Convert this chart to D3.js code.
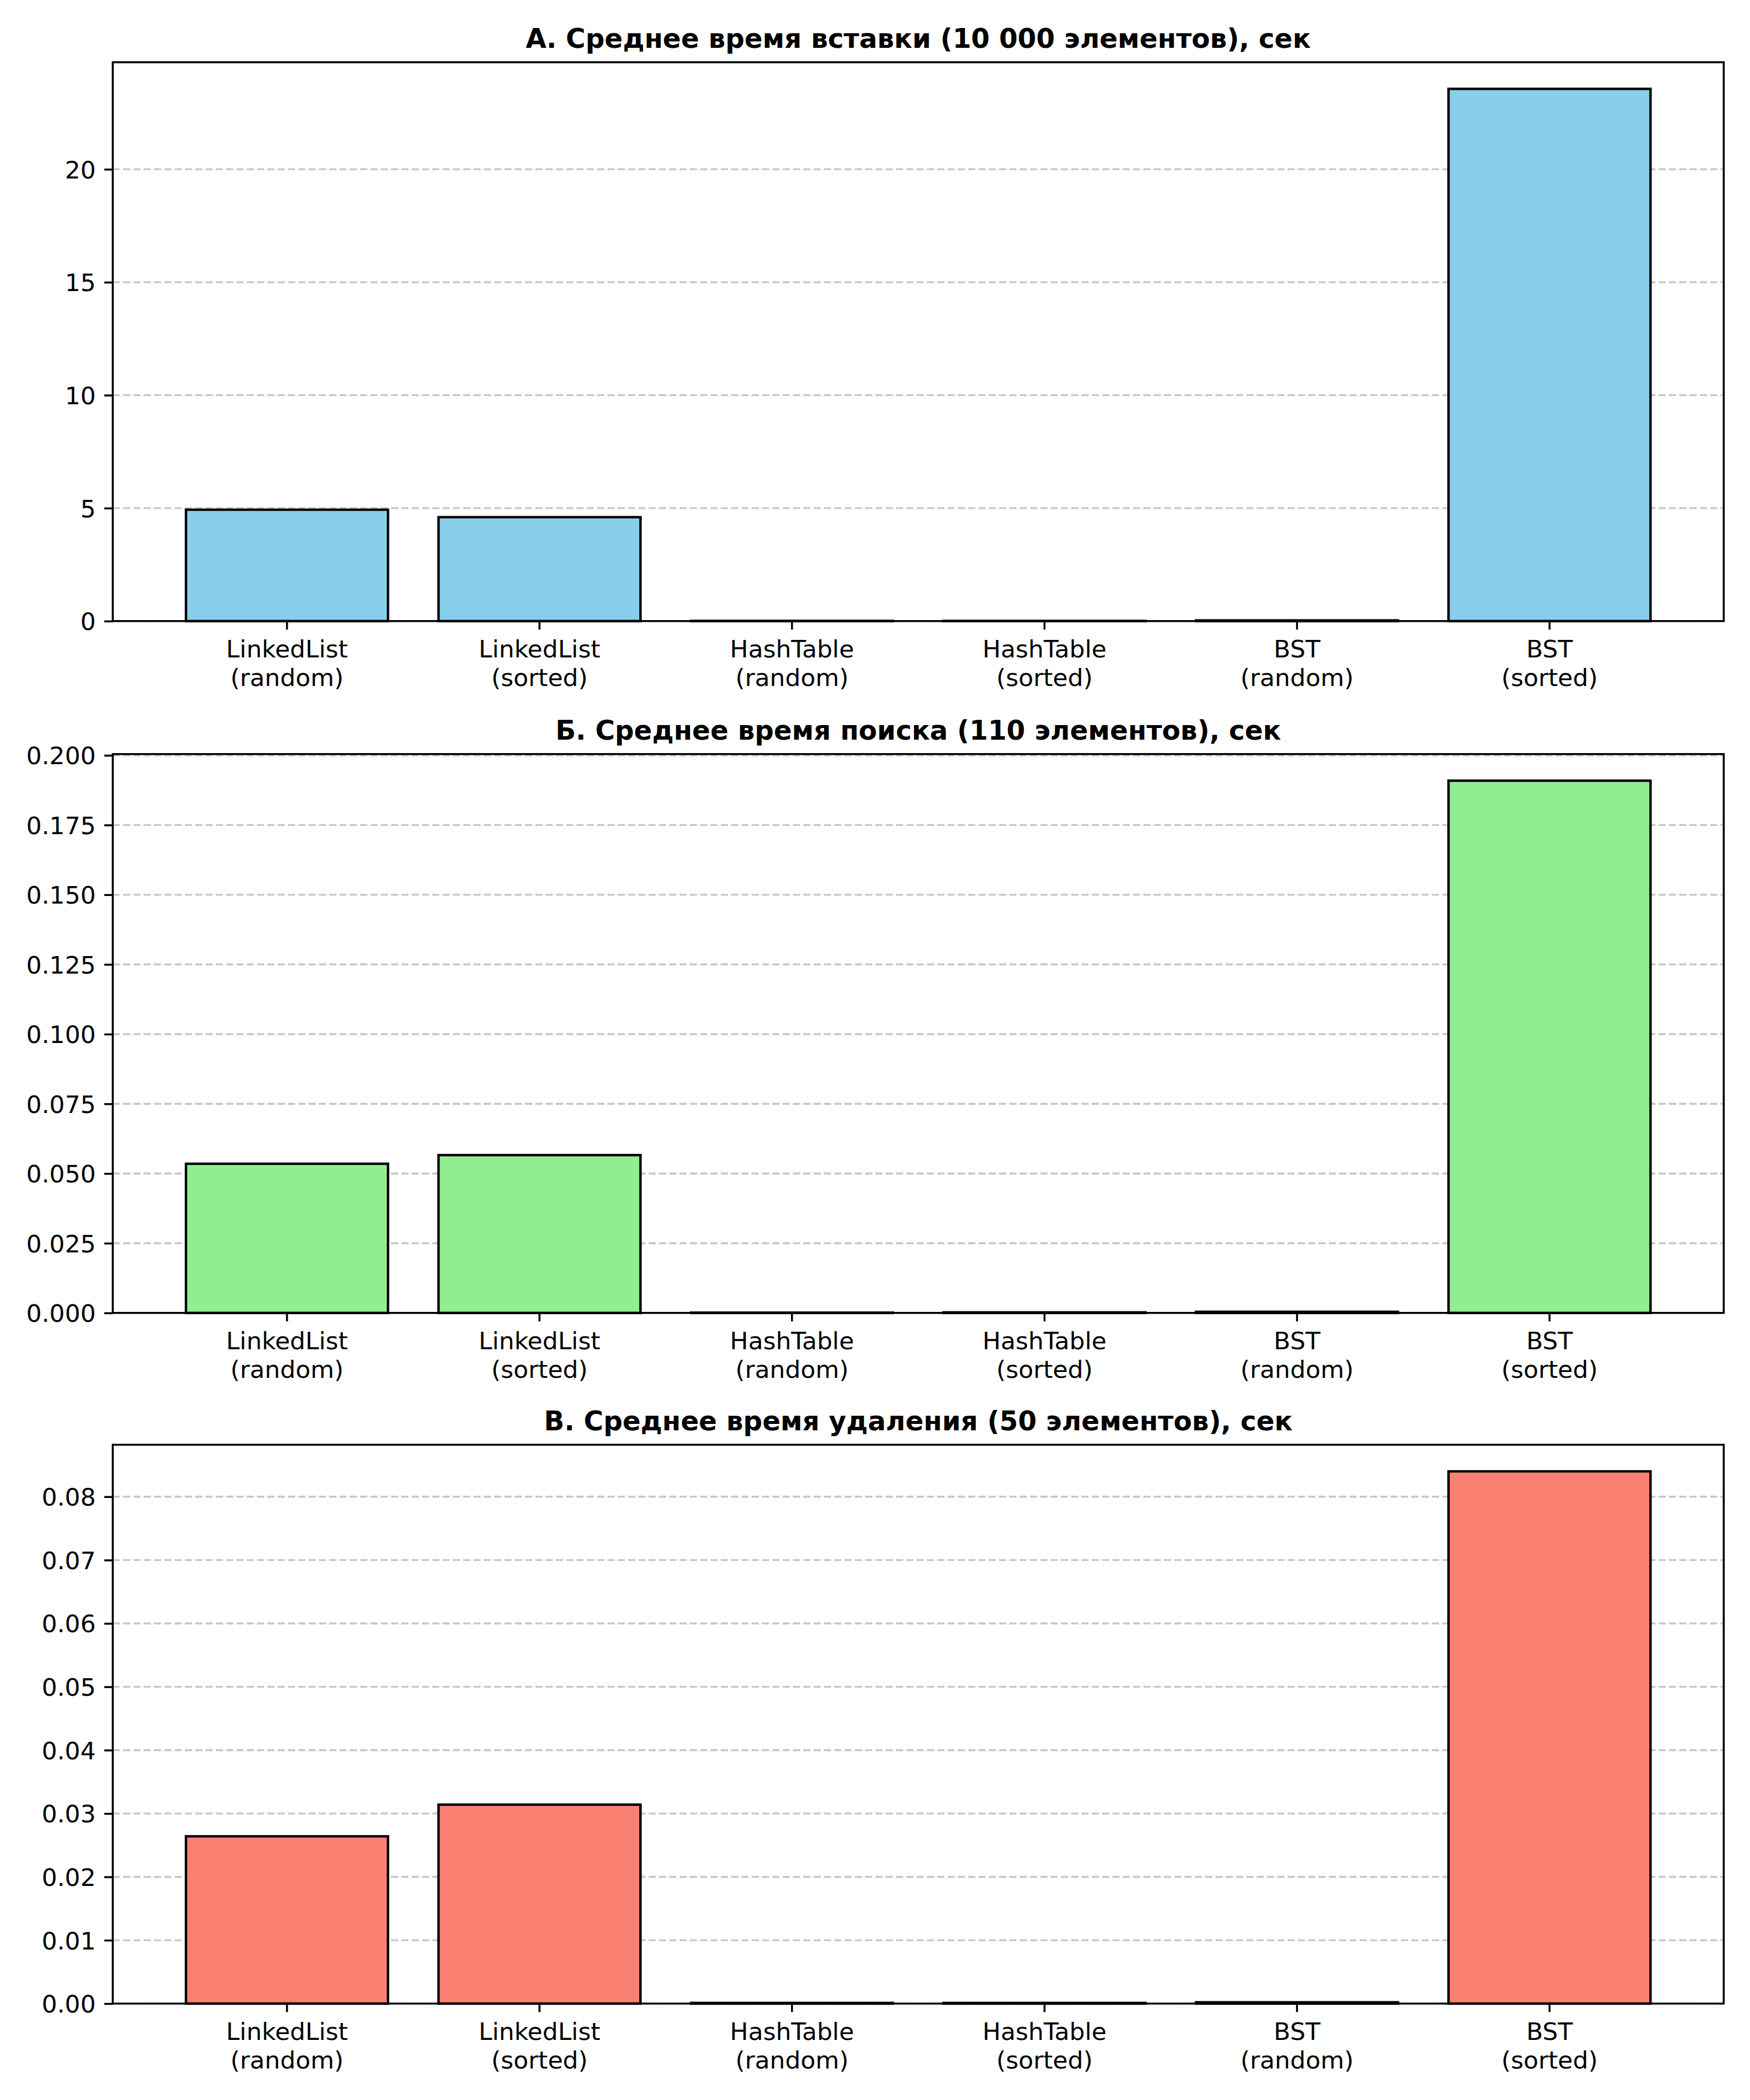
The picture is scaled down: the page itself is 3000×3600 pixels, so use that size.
<!DOCTYPE html>
<html>
<head>
<meta charset="utf-8">
<script src="https://cdn.jsdelivr.net/npm/d3@7"></script>
<style>
    body { margin: 0; background: #fff; }
    text { font-family: "DejaVu Sans", sans-serif; fill: #000; }
</style>
</head>
<body>
<svg id="drawing_region"></svg>
<script>
// --- data ---
const categories = [
    "LinkedList\n(random)", "LinkedList\n(sorted)",
    "HashTable\n(random)", "HashTable\n(sorted)",
    "BST\n(random)", "BST\n(sorted)"
];
const insertTimes = [4.93, 4.60, 0.008, 0.007, 0.03, 23.56];
const searchTimes = [0.0535, 0.0566, 0.0001, 0.0002, 0.0004, 0.1909];
const deleteTimes = [0.0264, 0.0314, 0.0001, 0.0001, 0.0002, 0.0840];

const insertTicks = [0, 5, 10, 15, 20];
const searchTicks = [0, 0.025, 0.05, 0.075, 0.1, 0.125, 0.15, 0.175, 0.2];
const deleteTicks = [0, 0.01, 0.02, 0.03, 0.04, 0.05, 0.06, 0.07, 0.08];

const titles = [
    "А. Среднее время вставки (10 000 элементов), сек",
    "Б. Среднее время поиска (110 элементов), сек",
    "В. Среднее время удаления (50 элементов), сек"
];

// --- layout (figure 10x12 in at 300 dpi) ---
const pt = 300 / 72;
const width = 3000, height = 3600;
const left = 193.3, right = 2955;
const panelTops = [106.7, 1292.7, 2476.7];
const panelHeight = 958;

const svg = d3.select('#drawing_region')
    .attr('width', width)
    .attr('height', height);

svg.append('rect')
    .attr('width', width)
    .attr('height', height)
    .attr('fill', '#fff');

const panels = [
    { values: insertTimes, ticks: insertTicks, fmt: d3.format('d'), color: '#87ceeb' },
    { values: searchTimes, ticks: searchTicks, fmt: d3.format('.3f'), color: '#90ee90' },
    { values: deleteTimes, ticks: deleteTicks, fmt: d3.format('.2f'), color: '#fa8072' }
];

panels.forEach((p, i) => drawPanel(p, titles[i], panelTops[i]));

function drawPanel(p, title, top) {
    const g = svg.append('g')
        .attr('transform', `translate(${left}, ${top})`);
    const w = right - left;
    const h = panelHeight;

    const xscale = d3.scaleBand()
        .domain(categories)
        .range([0, w])
        .paddingInner(0.2)
        .paddingOuter(0.29);

    const yscale = d3.scaleLinear()
        .domain([0, d3.max(p.values) * 1.05])
        .range([h, 0]);

    // grid
    g.append('g')
        .selectAll('line')
        .data(p.ticks)
        .join('line')
        .attr('x1', 0)
        .attr('x2', w)
        .attr('y1', d => yscale(d))
        .attr('y2', d => yscale(d))
        .attr('stroke', '#b0b0b0')
        .attr('stroke-opacity', 0.7)
        .attr('stroke-width', 0.8 * pt)
        .attr('stroke-dasharray', `${3.7 * 0.8 * pt},${1.6 * 0.8 * pt}`);

    // bars
    g.append('g')
        .selectAll('rect')
        .data(p.values)
        .join('rect')
        .attr('x', (d, j) => xscale(categories[j]))
        .attr('width', xscale.bandwidth())
        .attr('y', d => yscale(d))
        .attr('height', d => h - yscale(d))
        .attr('fill', p.color)
        .attr('stroke', '#000')
        .attr('stroke-width', 1 * pt);

    // axes
    const yaxis = d3.axisLeft(yscale)
        .tickValues(p.ticks)
        .tickFormat(p.fmt)
        .tickSize(3.5 * pt)
        .tickPadding(3.5 * pt);

    const yg = g.append('g').call(yaxis);
    yg.select('.domain').remove();
    yg.selectAll('line').attr('stroke-width', 0.8 * pt);
    yg.selectAll('text')
        .attr('font-size', 10 * pt)
        .attr('font-family', '"DejaVu Sans", sans-serif')
        .attr('dy', '0.36em');

    const xaxis = d3.axisBottom(xscale)
        .tickSize(3.5 * pt)
        .tickPadding(3.5 * pt);

    const xg = g.append('g')
        .attr('transform', `translate(0, ${h})`)
        .call(xaxis);
    xg.select('.domain').remove();
    xg.selectAll('line').attr('stroke-width', 0.8 * pt);
    xg.selectAll('text').each(function(d) {
        const t = d3.select(this)
            .text(null)
            .attr('font-size', 10 * pt)
            .attr('font-family', '"DejaVu Sans", sans-serif')
            .attr('y', 0)
            .attr('dy', null);
        d.split('\n').forEach((line, k) => {
            t.append('tspan')
                .attr('x', 0)
                .attr('y', 3.5 * pt * 2 + 33 + k * 49)
                .text(line);
        });
    });

    // frame
    g.append('rect')
        .attr('width', w)
        .attr('height', h)
        .attr('fill', 'none')
        .attr('stroke', '#000')
        .attr('stroke-width', 0.8 * pt);

    svg.append('text')
        .attr('x', left + w / 2)
        .attr('y', top - 6 * pt)
        .attr('text-anchor', 'middle')
        .attr('font-size', 11 * pt)
        .attr('font-weight', 'bold')
        .text(title);
}
</script>
</body>
</html>
